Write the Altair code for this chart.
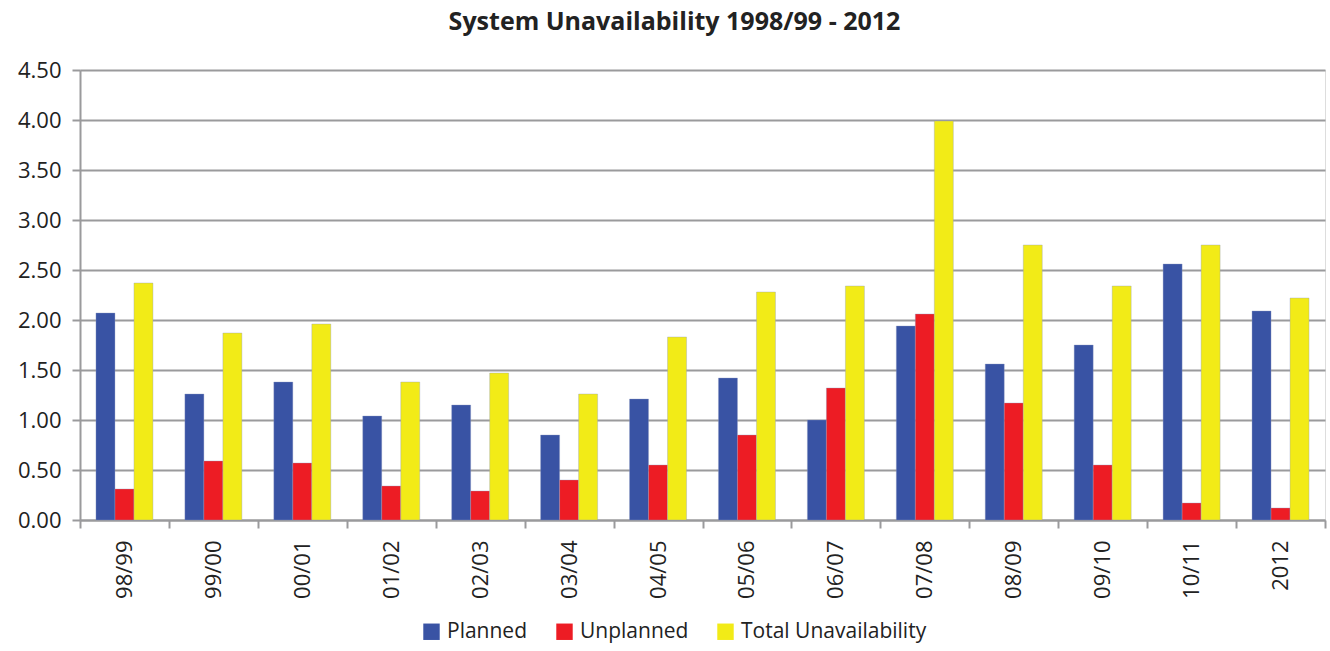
import altair as alt
import pandas as pd

# Unavailability by year (percent)
years = ["98/99", "99/00", "00/01", "01/02", "02/03", "03/04", "04/05",
         "05/06", "06/07", "07/08", "08/09", "09/10", "10/11", "2012"]
planned = [2.07, 1.26, 1.38, 1.04, 1.15, 0.85, 1.21, 1.42, 1.00, 1.94, 1.56, 1.75, 2.56, 2.09]
unplanned = [0.31, 0.59, 0.57, 0.34, 0.29, 0.40, 0.55, 0.85, 1.32, 2.06, 1.17, 0.55, 0.17, 0.12]
total = [2.37, 1.87, 1.96, 1.38, 1.47, 1.26, 1.83, 2.28, 2.34, 3.99, 2.75, 2.34, 2.75, 2.22]

series = ["Planned", "Unplanned", "Total Unavailability"]
colors = ["#3953A4", "#ED1C24", "#F2EB17"]

rows = []
for i, y in enumerate(years):
    for name, vals in zip(series, [planned, unplanned, total]):
        rows.append({"year": y, "series": name, "value": vals[i]})
df = pd.DataFrame(rows)

FONT = "Open Sans"
GRID = "#9A9A9C"
TEXT = "#222222"

chart = alt.Chart(df).mark_bar(
    stroke="#8F9BC0", strokeWidth=0.6, strokeOpacity=0.6
).encode(
    x=alt.X("year:N", sort=years, title=None,
            scale=alt.Scale(paddingInner=0, paddingOuter=0),
            axis=alt.Axis(labelAngle=270, labelFontSize=22, labelFont=FONT,
                          labelColor=TEXT, labelPadding=12,
                          tickBand="extent", tickSize=8, tickColor=GRID,
                          tickWidth=2, domainColor=GRID, domainWidth=2,
                          labelBaseline="middle", labelAlign="right")),
    xOffset=alt.XOffset("series:N", sort=series,
                        scale=alt.Scale(paddingInner=0, paddingOuter=0.84)),
    y=alt.Y("value:Q", title=None,
            scale=alt.Scale(domain=[0, 4.5], nice=False),
            axis=alt.Axis(values=[i * 0.5 for i in range(10)], format=".2f",
                          labelFontSize=22, labelFont=FONT, labelColor=TEXT,
                          labelPadding=11, tickSize=8, tickColor=GRID, tickWidth=2,
                          domainColor=GRID, domainWidth=2,
                          gridColor=GRID, gridWidth=2)),
    color=alt.Color("series:N", sort=series,
                    scale=alt.Scale(domain=series, range=colors),
                    legend=alt.Legend(title=None, orient="none", direction="horizontal",
                                      legendX=341, legendY=551,
                                      symbolType="square", symbolSize=270,
                                      symbolStrokeWidth=0,
                                      labelFontSize=21, labelFont=FONT,
                                      labelColor=TEXT, labelLimit=400,
                                      columnPadding=26, labelOffset=5)),
).properties(
    width=1245,
    height=450,
    title=alt.TitleParams("System Unavailability 1998/99 - 2012", fontSize=25,
                          font=FONT, fontWeight="bold", color=TEXT,
                          anchor="middle", dx=-28, offset=24),
    autosize=alt.AutoSizeParams(type="none"),
    padding={"left": 80, "top": 70, "right": 5, "bottom": 131},
).configure_view(
    fill="#C7C8CA", stroke=None
).configure(background="white")

chart.save("out.html", embed_options={"renderer": "svg", "actions": False})
